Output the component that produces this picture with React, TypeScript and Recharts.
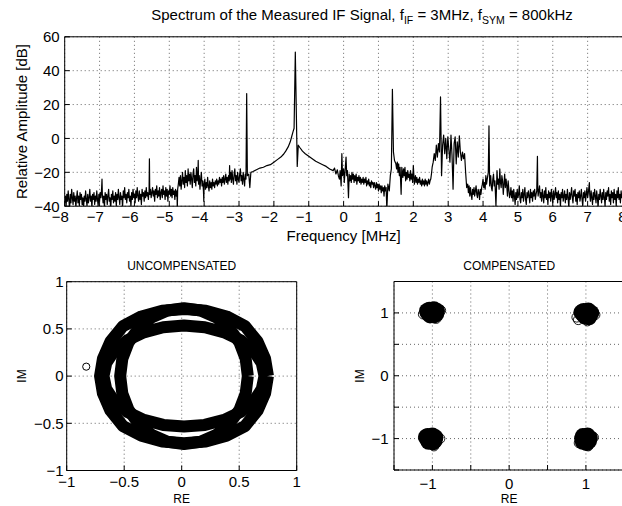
import React from 'react';
import {
  LineChart,
  Line,
  ScatterChart,
  Scatter,
  XAxis,
  YAxis,
  CartesianGrid,
} from 'recharts';

const FONT = '"Liberation Sans", Arial, Helvetica, sans-serif';

// ---------- Spectrum (frequency MHz, relative amplitude dB) ----------
const spectrumLow: [number, number][] = [
  [-8.0, -38], [-7.98, -34], [-7.96, -40], [-7.94, -33], [-7.92, -37], [-7.9, -31], [-7.88, -36], [-7.86, -42],
  [-7.84, -33], [-7.82, -38], [-7.8, -30], [-7.78, -35], [-7.76, -39], [-7.74, -32], [-7.72, -37], [-7.7, -34],
  [-7.68, -41], [-7.66, -35], [-7.64, -31], [-7.62, -38], [-7.6, -34], [-7.58, -40], [-7.56, -32], [-7.54, -36],
  [-7.52, -33], [-7.5, -39], [-7.48, -35], [-7.46, -42], [-7.44, -34], [-7.42, -37], [-7.4, -31], [-7.38, -36],
  [-7.36, -40], [-7.34, -33], [-7.32, -38], [-7.3, -35], [-7.28, -30], [-7.26, -37], [-7.24, -34], [-7.22, -41],
  [-7.2, -33], [-7.18, -36], [-7.16, -32], [-7.14, -39], [-7.12, -34], [-7.1, -37], [-7.08, -31], [-7.06, -36],
  [-7.04, -40], [-7.02, -33], [-7.0, -37], [-6.98, -32], [-6.96, -35], [-6.94, -29], [-6.93, -24], [-6.92, -33],
  [-6.9, -38], [-6.88, -34], [-6.86, -41], [-6.84, -32], [-6.82, -36], [-6.8, -33], [-6.78, -39], [-6.76, -34],
  [-6.74, -30], [-6.72, -37], [-6.7, -35], [-6.68, -42], [-6.66, -33], [-6.64, -36], [-6.62, -31], [-6.6, -38],
  [-6.58, -34], [-6.56, -37], [-6.54, -32], [-6.52, -40], [-6.5, -33], [-6.48, -36], [-6.46, -30], [-6.44, -35],
  [-6.42, -39], [-6.4, -32], [-6.38, -36], [-6.36, -34], [-6.34, -41], [-6.32, -31], [-6.3, -35], [-6.28, -29],
  [-6.26, -36], [-6.24, -33], [-6.22, -38], [-6.2, -32], [-6.18, -35], [-6.16, -30], [-6.14, -37], [-6.12, -34],
  [-6.1, -40], [-6.08, -32], [-6.06, -36], [-6.04, -30], [-6.02, -35], [-6.0, -33], [-5.98, -38], [-5.96, -31],
  [-5.94, -35], [-5.92, -29], [-5.9, -34], [-5.88, -37], [-5.86, -31], [-5.84, -36], [-5.82, -33], [-5.8, -39],
  [-5.78, -30], [-5.76, -34], [-5.74, -32], [-5.72, -37], [-5.7, -31], [-5.68, -35], [-5.66, -29], [-5.64, -34],
  [-5.62, -32], [-5.6, -36], [-5.58, -31], [-5.57, -12], [-5.56, -33], [-5.54, -30], [-5.52, -35], [-5.5, -32],
  [-5.48, -29], [-5.46, -34], [-5.44, -31], [-5.42, -37], [-5.4, -30], [-5.38, -33], [-5.36, -28], [-5.34, -35],
  [-5.32, -31], [-5.3, -34], [-5.28, -29], [-5.26, -36], [-5.24, -32], [-5.22, -30], [-5.2, -35], [-5.18, -28],
  [-5.16, -33], [-5.14, -31], [-5.12, -36], [-5.1, -29], [-5.08, -34], [-5.06, -30], [-5.04, -37], [-5.02, -31],
  [-5.0, -33], [-4.98, -28], [-4.96, -34], [-4.94, -30], [-4.92, -35], [-4.9, -29], [-4.88, -33], [-4.86, -31],
  [-4.84, -36], [-4.82, -30], [-4.8, -34], [-4.78, -31], [-4.77, -42], [-4.76, -30],
];

const spectrumMid: [number, number][] = [
  [-4.74, -27], [-4.72, -23], [-4.7, -28], [-4.68, -22], [-4.66, -30], [-4.64, -25], [-4.62, -20], [-4.6, -27],
  [-4.58, -23], [-4.56, -29], [-4.54, -19], [-4.52, -26], [-4.5, -22], [-4.48, -28], [-4.46, -18], [-4.44, -25],
  [-4.42, -21], [-4.4, -27], [-4.38, -20], [-4.36, -24], [-4.34, -29], [-4.32, -21], [-4.3, -18], [-4.28, -26],
  [-4.26, -22], [-4.24, -28], [-4.22, -17], [-4.2, -25], [-4.18, -21], [-4.17, -13], [-4.16, -27], [-4.14, -22],
  [-4.12, -30], [-4.1, -24], [-4.08, -20], [-4.06, -28], [-4.04, -25], [-4.02, -31], [-4.01, -37], [-4.0, -27],
  [-3.98, -24], [-3.96, -30], [-3.94, -26], [-3.92, -29], [-3.9, -23], [-3.88, -28], [-3.86, -31], [-3.84, -25],
  [-3.82, -29], [-3.8, -26], [-3.78, -30], [-3.76, -24], [-3.74, -28], [-3.72, -26], [-3.7, -29], [-3.68, -25],
  [-3.66, -27], [-3.64, -24], [-3.62, -28], [-3.6, -25], [-3.58, -27], [-3.56, -23], [-3.54, -26], [-3.52, -24],
  [-3.5, -28], [-3.48, -23], [-3.46, -26], [-3.44, -22], [-3.42, -27], [-3.4, -24], [-3.38, -21], [-3.36, -26],
  [-3.34, -23], [-3.32, -27], [-3.3, -22], [-3.28, -25], [-3.27, -16], [-3.26, -24], [-3.24, -20], [-3.22, -26],
  [-3.2, -19], [-3.18, -24], [-3.16, -27], [-3.14, -21], [-3.12, -18], [-3.1, -25], [-3.08, -22], [-3.06, -27],
  [-3.04, -20], [-3.02, -24], [-3.0, -26], [-2.98, -21], [-2.96, -18], [-2.94, -25], [-2.92, -22], [-2.9, -27],
  [-2.88, -20], [-2.86, -24], [-2.84, -28], [-2.82, -21],
];

const spectrumCarrier: [number, number][] = [
  [-2.8, -24], [-2.78, 26.5], [-2.76, -22], [-2.72, -21], [-2.69, -29], [-2.66, -20], [-2.6, -19.5], [-2.5, -18.5],
  [-2.4, -17.5], [-2.3, -17], [-2.2, -16], [-2.1, -15.5], [-2.0, -14], [-1.9, -12.5], [-1.8, -11], [-1.73, -9.5],
  [-1.66, -7.5], [-1.59, -5], [-1.53, -2], [-1.49, 1], [-1.45, 4], [-1.42, 6], [-1.385, 51], [-1.33, -16.5],
  [-1.3, -4], [-1.25, -5.5], [-1.18, -7.5], [-1.1, -9], [-1.0, -10.5], [-0.9, -12], [-0.8, -13.5], [-0.7, -14.5],
  [-0.6, -15.5], [-0.5, -16.5], [-0.4, -18], [-0.3, -19], [-0.26, -17.5], [-0.22, -21], [-0.18, -18.5], [-0.15, -22],
  [-0.12, -24], [-0.1, -19], [-0.07, -28], [-0.05, -9], [-0.03, -22], [0.0, -18], [0.02, -26], [0.04, -20],
  [0.07, -11], [0.09, -22], [0.11, -19], [0.14, -35], [0.16, -21], [0.18, -25], [0.2, -22], [0.22, -26],
  [0.24, -20], [0.26, -24], [0.28, -21], [0.3, -26], [0.32, -22], [0.34, -25], [0.36, -21], [0.38, -27],
  [0.4, -23], [0.42, -25], [0.44, -22], [0.46, -26], [0.48, -23], [0.5, -27], [0.52, -24], [0.54, -26],
  [0.56, -23], [0.58, -27], [0.6, -24], [0.62, -26], [0.64, -23], [0.66, -28], [0.68, -25], [0.7, -27],
  [0.72, -24], [0.74, -28], [0.76, -26], [0.78, -29], [0.8, -25], [0.82, -27], [0.84, -26], [0.86, -29],
  [0.88, -26], [0.9, -28], [0.92, -30], [0.94, -26], [0.96, -29], [0.98, -27], [1.0, -31], [1.02, -27],
  [1.04, -30], [1.06, -28], [1.08, -32], [1.1, -28], [1.12, -31], [1.14, -29], [1.16, -34], [1.18, -28],
  [1.2, -31], [1.22, -29], [1.24, -42], [1.27, -27], [1.31, -31], [1.34, -22], [1.37, -18], [1.4, 29],
  [1.43, -8], [1.46, -13], [1.5, -15],
];

const spectrumHigh: [number, number][] = [
  [1.52, -18], [1.54, -14], [1.56, -20], [1.58, -15], [1.6, -22], [1.62, -17], [1.65, -33], [1.67, -17],
  [1.7, -23], [1.72, -18], [1.74, -22], [1.76, -17], [1.78, -25], [1.8, -20], [1.82, -24], [1.84, -19],
  [1.86, -23], [1.88, -21], [1.9, -25], [1.92, -19], [1.94, -24], [1.96, -21], [1.98, -26], [2.0, -16],
  [2.03, -27], [2.06, -22], [2.08, -26], [2.1, -23], [2.12, -27], [2.14, -24], [2.16, -26], [2.18, -23],
  [2.2, -27], [2.22, -25], [2.24, -28], [2.26, -24], [2.28, -27], [2.3, -25], [2.32, -28], [2.34, -24],
  [2.36, -27], [2.38, -25], [2.4, -28], [2.42, -26], [2.44, -24], [2.46, -27], [2.48, -25], [2.5, -24],
  [2.52, -21], [2.54, -17], [2.57, -14], [2.6, -9], [2.63, -13], [2.66, -4], [2.69, -11], [2.72, -3],
  [2.75, -8], [2.78, 24.5], [2.81, -22], [2.84, -4], [2.87, 2], [2.9, -9], [2.93, 0], [2.96, -12],
  [2.99, 1], [3.02, -7], [3.05, -14], [3.08, 2], [3.11, -10], [3.14, -30], [3.17, -3], [3.2, 1],
  [3.23, -15], [3.26, -2], [3.29, -11], [3.32, 1.5], [3.35, -8], [3.38, -13], [3.41, -8], [3.44, -12],
  [3.47, -9], [3.5, -20], [3.53, -29], [3.56, -27], [3.58, -32], [3.6, -28], [3.62, -34], [3.64, -29],
  [3.66, -33], [3.68, -36], [3.7, -30], [3.72, -33], [3.74, -29], [3.76, -34], [3.78, -31], [3.8, -28],
  [3.82, -33], [3.84, -35], [3.86, -30], [3.88, -32], [3.9, -36], [3.92, -30], [3.94, -33], [3.96, -29],
  [3.98, -27], [4.0, -24], [4.02, -29], [4.04, -26], [4.06, -30], [4.08, -22], [4.1, -27], [4.12, -24],
  [4.15, -20], [4.17, 7.5], [4.19, -28], [4.22, -22], [4.24, -29], [4.26, -31], [4.28, -24], [4.3, -21],
  [4.32, -28], [4.34, -25], [4.37, -40], [4.4, -19], [4.42, -27], [4.44, -24], [4.46, -30], [4.48, -18],
  [4.5, -26], [4.52, -29], [4.54, -22], [4.56, -25], [4.58, -33], [4.6, -27], [4.62, -21], [4.64, -29],
  [4.66, -24], [4.68, -28], [4.7, -34], [4.72, -25], [4.74, -30], [4.76, -35], [4.78, -33], [4.8, -29],
  [4.82, -35], [4.84, -31], [4.86, -37], [4.88, -30], [4.9, -34], [4.92, -39], [4.94, -32], [4.96, -36],
  [4.98, -30], [5.0, -35], [5.02, -33], [5.04, -28], [5.06, -36], [5.08, -38], [5.1, -32], [5.12, -35],
  [5.14, -30], [5.16, -37], [5.18, -33], [5.2, -29], [5.22, -36], [5.24, -39], [5.26, -32], [5.28, -35],
  [5.3, -31], [5.32, -34], [5.34, -38], [5.36, -30], [5.38, -35], [5.4, -32], [5.42, -37], [5.44, -31],
  [5.46, -34], [5.48, -30], [5.5, -36], [5.52, -33], [5.54, -31], [5.56, -10.5], [5.57, -30], [5.58, -34],
  [5.6, -31], [5.62, -28], [5.64, -35], [5.66, -32], [5.68, -37], [5.7, -30], [5.72, -34], [5.74, -38],
  [5.76, -31], [5.78, -35], [5.8, -29], [5.82, -36], [5.84, -33], [5.86, -39], [5.88, -31], [5.9, -35],
  [5.92, -32], [5.94, -37], [5.96, -30], [5.98, -34], [6.0, -38], [6.02, -31], [6.04, -36], [6.06, -33],
  [6.08, -29], [6.1, -35], [6.12, -32], [6.14, -38], [6.16, -31], [6.18, -36], [6.2, -33], [6.22, -40],
  [6.24, -32], [6.26, -35], [6.28, -30], [6.3, -37], [6.32, -34], [6.34, -31], [6.36, -38], [6.38, -33],
  [6.4, -36], [6.42, -30], [6.44, -35], [6.46, -41], [6.48, -32], [6.5, -36], [6.52, -33], [6.54, -29],
  [6.56, -35], [6.58, -38], [6.6, -31], [6.62, -34], [6.64, -30], [6.66, -37], [6.68, -33], [6.7, -39],
  [6.72, -32], [6.74, -35], [6.76, -31], [6.78, -37], [6.8, -34], [6.82, -30], [6.84, -36], [6.86, -40],
  [6.88, -32], [6.9, -35], [6.92, -31], [6.94, -37], [6.96, -33], [6.98, -29], [7.0, -35], [7.02, -32],
  [7.04, -28], [7.05, -26], [7.06, -33], [7.08, -37], [7.1, -31], [7.12, -35], [7.14, -39], [7.16, -32],
  [7.18, -36], [7.2, -30], [7.22, -34], [7.24, -38], [7.26, -31], [7.28, -35], [7.3, -41], [7.32, -33],
  [7.34, -36], [7.36, -30], [7.38, -34], [7.4, -38], [7.42, -32], [7.44, -36], [7.46, -30], [7.48, -35],
  [7.5, -40], [7.52, -32], [7.54, -36], [7.56, -31], [7.58, -34], [7.6, -29], [7.62, -37], [7.64, -33],
  [7.66, -39], [7.68, -31], [7.7, -35], [7.72, -32], [7.74, -38], [7.76, -30], [7.78, -36], [7.8, -33],
  [7.82, -40], [7.84, -31], [7.86, -35], [7.88, -29], [7.9, -36], [7.92, -33], [7.94, -38], [7.96, -31],
  [7.98, -35], [8.0, -33],
];

const freqTicks = [-8, -7, -6, -5, -4, -3, -2, -1, 0, 1, 2, 3, 4, 5, 6, 7, 8];
const ampTicks = [-40, -20, 0, 20, 40, 60];

// ---------- Uncompensated constellation (RE, IM) ----------
const ringOuter: [number, number][] = [
  [0.75, 0.0], [0.725, 0.184], [0.66, 0.365], [0.55, 0.53], [0.39, 0.632], [0.21, 0.692], [0.03, 0.71],
  [-0.17, 0.692], [-0.35, 0.632], [-0.51, 0.53], [-0.62, 0.365], [-0.685, 0.184], [-0.71, 0.0],
  [-0.685, -0.184], [-0.62, -0.365], [-0.51, -0.53], [-0.35, -0.632], [-0.17, -0.692], [0.02, -0.71],
  [0.21, -0.692], [0.39, -0.632], [0.55, -0.53], [0.66, -0.365], [0.725, -0.184], [0.75, 0.0],
];
const ringWide: [number, number][] = [
  [0.72, 0.0], [0.696, 0.138], [0.626, 0.268], [0.515, 0.378], [0.37, 0.463], [0.201, 0.517], [0.02, 0.535],
  [-0.161, 0.517], [-0.33, 0.463], [-0.475, 0.378], [-0.586, 0.268], [-0.656, 0.138], [-0.68, 0.0],
  [-0.656, -0.138], [-0.586, -0.268], [-0.475, -0.378], [-0.33, -0.463], [-0.161, -0.517], [0.02, -0.535],
  [0.201, -0.517], [0.37, -0.463], [0.515, -0.378], [0.626, -0.268], [0.696, -0.138], [0.72, 0.0],
];
const ringTall: [number, number][] = [
  [0.575, 0.0], [0.556, 0.186], [0.501, 0.36], [0.412, 0.509], [0.298, 0.624], [0.164, 0.695], [0.02, 0.72],
  [-0.124, 0.695], [-0.258, 0.624], [-0.372, 0.509], [-0.461, 0.36], [-0.516, 0.186], [-0.535, 0.0],
  [-0.516, -0.186], [-0.461, -0.36], [-0.372, -0.509], [-0.258, -0.624], [-0.124, -0.695], [0.02, -0.72],
  [0.164, -0.695], [0.298, -0.624], [0.412, -0.509], [0.501, -0.36], [0.556, -0.186], [0.575, 0.0],
];
const strayPoint: [number, number][] = [[-0.83, 0.1]];

// ---------- Compensated constellation (RE, IM) ----------
const clusterCore: [number, number][] = [
  [-1.04, 1.05], [-0.98, 1.06], [-0.94, 1.03], [-1.06, 1.0], [-1.0, 1.01], [-0.95, 0.98], [-1.03, 0.96], [-0.98, 0.96], [-1.07, 1.03],
  [0.97, 1.03], [1.03, 1.04], [1.07, 1.0], [0.96, 0.98], [1.01, 0.99], [1.05, 0.96], [0.99, 0.94], [1.04, 0.93], [0.94, 1.01],
  [-1.06, -0.96], [-1.0, -0.95], [-0.96, -0.98], [-1.07, -1.01], [-1.02, -1.0], [-0.97, -1.03], [-1.05, -1.05], [-0.99, -1.06], [-1.08, -0.97],
  [0.96, -0.96], [1.02, -0.95], [1.05, -0.99], [0.95, -1.0], [1.0, -1.01], [1.04, -1.04], [0.96, -1.05], [1.01, -1.07], [0.98, -0.97],
];
const clusterEdge: [number, number][] = [
  [-0.89, 1.04], [-1.12, 0.98], [-0.95, 0.91],
  [0.88, 0.93], [0.9, 0.89], [1.12, 0.97], [1.02, 0.87],
  [-0.9, -1.0], [-1.12, -0.99], [-0.98, -1.12],
  [1.1, -0.98], [0.91, -1.07], [1.03, -1.12],
];

const iqTicksLeft = [-1, -0.5, 0, 0.5, 1];
const iqTicksRight = [-1.5, -1, -0.5, 0, 0.5, 1, 1.5];

// ---------- helpers ----------
const toXY = (arr: [number, number][]) => arr.map(([x, y]) => ({ x, y }));
const spectrum = [...spectrumLow, ...spectrumMid, ...spectrumCarrier, ...spectrumHigh].map(([f, a]) => ({ f, a }));

const fmt = (v: number) => (v < 0 ? '\u2212' + String(Math.abs(v)) : String(v));
const fmtInt = (v: number) => (Number.isInteger(v) ? fmt(v) : '');

const TICK_FS = 15;
const digitsWidth = (s: string, fs: number) => {
  let w = 0;
  for (const c of s) w += (c === '.' ? 0.278 : 0.556) * fs;
  return w;
};

const HangTick = (props: any) => {
  const { x, y, payload, onlyInt } = props;
  const v = Number(payload.value);
  if (onlyInt && !Number.isInteger(v)) return <g />;
  const s = String(Math.abs(v));
  const w = digitsWidth(s, TICK_FS);
  return (
    <g>
      <text x={x} y={y} dy="0.71em" textAnchor="middle" fontSize={TICK_FS} fontFamily={FONT} fill="#000">
        {s}
      </text>
      {v < 0 ? (
        <text x={x - w / 2} y={y} dy="0.71em" textAnchor="end" fontSize={TICK_FS} fontFamily={FONT} fill="#000">
          {'\u2212'}
        </text>
      ) : null}
    </g>
  );
};

const EmptyShape = () => <g />;
const CoreShape = (p: any) => <circle cx={p.cx} cy={p.cy} r={8} fill="#000" />;
const EdgeShape = (p: any) => <circle cx={p.cx} cy={p.cy} r={4.8} fill="none" stroke="#000" strokeWidth={0.9} />;
const OpenShape = (p: any) => <circle cx={p.cx} cy={p.cy} r={3.6} fill="none" stroke="#000" strokeWidth={1} />;

const tickStyle = { fontSize: TICK_FS, fill: '#000', fontFamily: FONT };
const gridProps = { stroke: '#666', strokeDasharray: '1 3', strokeWidth: 1 };
const ringLine = { stroke: '#000', strokeWidth: 12, strokeLinejoin: 'round' as const, fill: 'none' };

export default function App() {
  return (
    <div
      style={{
        position: 'absolute',
        left: 0,
        top: 0,
        width: 622,
        height: 506,
        overflow: 'hidden',
        background: '#fff',
        fontFamily: FONT,
      }}
    >
      {/* Spectrum */}
      <div style={{ position: 'absolute', left: 0, top: 0 }}>
        <LineChart
          width={640}
          height={506}
          data={spectrum}
          margin={{ top: 26.8, right: 7.5, bottom: 269.8, left: 24.7 }}
        >
          <CartesianGrid {...gridProps} />
          <XAxis
            dataKey="f"
            type="number"
            domain={[-8, 8]}
            ticks={freqTicks}
            interval={0}
            allowDataOverflow
            height={30}
            tickSize={-5}
            tickMargin={10}
            stroke="#000"
            tick={(p: any) => <HangTick {...p} />}
          />
          <XAxis
            xAxisId="top"
            orientation="top"
            dataKey="f"
            type="number"
            domain={[-8, 8]}
            ticks={freqTicks}
            interval={0}
            allowDataOverflow
            height={10}
            tickSize={-5}
            tick={false}
            stroke="#000"
          />
          <YAxis
            type="number"
            domain={[-40, 60]}
            ticks={ampTicks}
            interval={0}
            allowDataOverflow
            width={40}
            tickSize={-5}
            tickMargin={10}
            stroke="#000"
            tick={tickStyle}
            tickFormatter={fmt}
          />
          <YAxis
            yAxisId="right"
            orientation="right"
            type="number"
            domain={[-40, 60]}
            ticks={ampTicks}
            interval={0}
            allowDataOverflow
            width={10}
            tickSize={-5}
            tick={false}
            stroke="#000"
          />
          <Line
            dataKey="a"
            type="linear"
            stroke="#000"
            strokeWidth={1.2}
            strokeLinejoin="round"
            dot={false}
            isAnimationActive={false}
          />
        </LineChart>
      </div>

      {/* Uncompensated */}
      <div style={{ position: 'absolute', left: 0, top: 0 }}>
        <ScatterChart width={640} height={506} margin={{ top: 271.7, right: 333.3, bottom: 5.5, left: 26.7 }}>
          <CartesianGrid {...gridProps} />
          <XAxis
            dataKey="x"
            type="number"
            domain={[-1, 1]}
            ticks={iqTicksLeft}
            interval={0}
            allowDataOverflow
            height={30}
            tickSize={-5}
            tickMargin={11}
            stroke="#000"
            tick={tickStyle}
            tickFormatter={fmt}
          />
          <XAxis
            xAxisId="top"
            orientation="top"
            dataKey="x"
            type="number"
            domain={[-1, 1]}
            ticks={iqTicksLeft}
            interval={0}
            allowDataOverflow
            height={10}
            tickSize={-5}
            tick={false}
            stroke="#000"
          />
          <YAxis
            dataKey="y"
            type="number"
            domain={[-1, 1]}
            ticks={iqTicksLeft}
            interval={0}
            allowDataOverflow
            width={40}
            tickSize={-5}
            tickMargin={8}
            stroke="#000"
            tick={tickStyle}
            tickFormatter={fmt}
          />
          <YAxis
            yAxisId="right"
            orientation="right"
            dataKey="y"
            type="number"
            domain={[-1, 1]}
            ticks={iqTicksLeft}
            interval={0}
            allowDataOverflow
            width={10}
            tickSize={-5}
            tick={false}
            stroke="#000"
          />
          <Scatter data={toXY(ringOuter)} line={ringLine} shape={EmptyShape} isAnimationActive={false} />
          <Scatter data={toXY(ringWide)} line={ringLine} shape={EmptyShape} isAnimationActive={false} />
          <Scatter data={toXY(ringTall)} line={ringLine} shape={EmptyShape} isAnimationActive={false} />
          <Scatter data={toXY(strayPoint)} shape={OpenShape} isAnimationActive={false} />
        </ScatterChart>
      </div>

      {/* Compensated */}
      <div style={{ position: 'absolute', left: 0, top: 0 }}>
        <ScatterChart width={640} height={506} margin={{ top: 271.5, right: 5.7, bottom: 6, left: 354 }}>
          <CartesianGrid {...gridProps} />
          <XAxis
            dataKey="x"
            type="number"
            domain={[-1.5, 1.5]}
            ticks={iqTicksRight}
            interval={0}
            allowDataOverflow
            height={30}
            tickSize={-5}
            tickMargin={13}
            stroke="#000"
            tick={(p: any) => <HangTick {...p} onlyInt />}
          />
          <XAxis
            xAxisId="top"
            orientation="top"
            dataKey="x"
            type="number"
            domain={[-1.5, 1.5]}
            ticks={iqTicksRight}
            interval={0}
            allowDataOverflow
            height={10}
            tickSize={-5}
            tick={false}
            stroke="#000"
          />
          <YAxis
            dataKey="y"
            type="number"
            domain={[-1.5, 1.5]}
            ticks={iqTicksRight}
            interval={0}
            allowDataOverflow
            width={40}
            tickSize={-5}
            tickMargin={10.5}
            stroke="#000"
            tick={tickStyle}
            tickFormatter={fmtInt}
          />
          <YAxis
            yAxisId="right"
            orientation="right"
            dataKey="y"
            type="number"
            domain={[-1.5, 1.5]}
            ticks={iqTicksRight}
            interval={0}
            allowDataOverflow
            width={10}
            tickSize={-5}
            tick={false}
            stroke="#000"
          />
          <Scatter data={toXY(clusterCore)} shape={CoreShape} isAnimationActive={false} />
          <Scatter data={toXY(clusterEdge)} shape={EdgeShape} isAnimationActive={false} />
        </ScatterChart>
      </div>

      {/* Titles and axis labels */}
      <svg
        width={622}
        height={506}
        style={{ position: 'absolute', left: 0, top: 0, pointerEvents: 'none' }}
        fontFamily={FONT}
        fill="#000"
      >
        <text x={362} y={20} textAnchor="middle" fontSize={15}>
          Spectrum of the Measured IF Signal, f
          <tspan fontSize={10.5} dy={4}>IF</tspan>
          <tspan dy={-4}> = 3MHz, f</tspan>
          <tspan fontSize={10.5} dy={4}>SYM</tspan>
          <tspan dy={-4}> = 800kHz</tspan>
        </text>
        <text x={343.6} y={240.5} textAnchor="middle" fontSize={15}>
          Frequency [MHz]
        </text>
        <text transform="translate(27,121.5) rotate(-90)" textAnchor="middle" fontSize={15}>
          Relative Amplitude [dB]
        </text>
        <text x={181.7} y={270} textAnchor="middle" fontSize={12}>
          UNCOMPENSATED
        </text>
        <text x={509.2} y={270} textAnchor="middle" fontSize={12}>
          COMPENSATED
        </text>
        <text x={181.7} y={502.5} textAnchor="middle" fontSize={12}>
          RE
        </text>
        <text x={509.2} y={502.5} textAnchor="middle" fontSize={12}>
          RE
        </text>
        <text transform="translate(25.5,376) rotate(-90)" textAnchor="middle" fontSize={12}>
          IM
        </text>
        <text transform="translate(363.5,376) rotate(-90)" textAnchor="middle" fontSize={12}>
          IM
        </text>
      </svg>
    </div>
  );
}
